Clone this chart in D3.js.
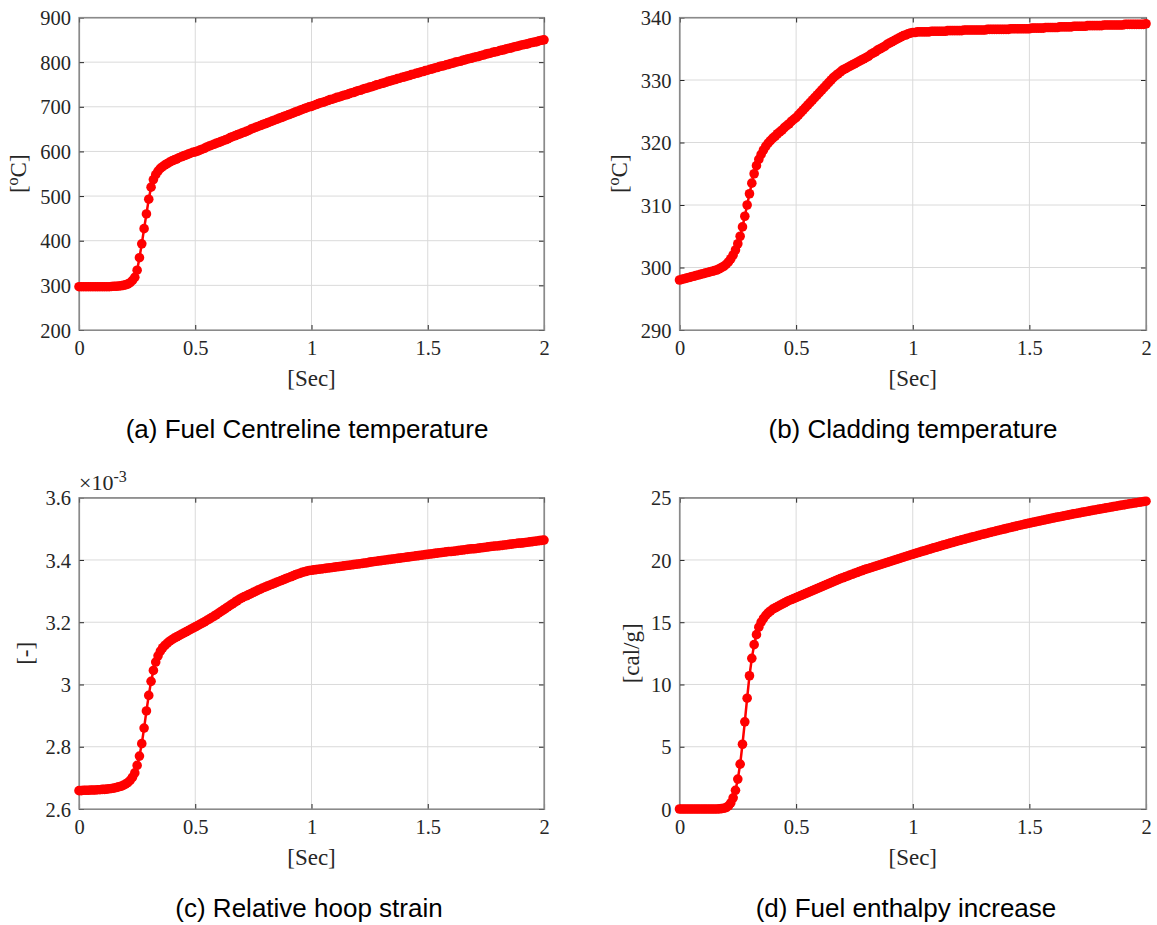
<!DOCTYPE html>
<html>
<head>
<meta charset="utf-8">
<script src="https://cdn.jsdelivr.net/npm/d3@7"></script>
<style>
  body { margin: 0; background: #fff; }
  .tick text { font-family: "Liberation Serif", "Times New Roman", serif; font-size: 20.5px; fill: #262626; }
  .lbl { font-family: "Liberation Serif", "Times New Roman", serif; font-size: 23px; fill: #262626; }
  .cap { font-family: "Liberation Sans", Arial, sans-serif; font-size: 26px; fill: #000; }
</style>
</head>
<body>
<svg id="chart" width="1157" height="925"></svg>
<script>
// sampling grid of the solver output, 0 .. 2 s every 0.01 s
var timeSec = d3.range(0, 201).map(function(i) { return i / 100; });

// (a) fuel centreline temperature [oC]
var fuelTemp = [
  297, 297, 297, 297, 297, 297, 297, 297, 297, 297,
  297, 297, 297, 297, 297.5, 298, 298, 298.5, 299, 300,
  301, 303, 306, 311, 318, 334, 362, 393, 427, 460,
  493, 520, 537, 548, 556, 562, 566, 570, 573, 576,
  579, 581, 583, 586, 588, 590, 592, 594, 596, 598,
  599, 601, 603, 605, 607, 610, 612, 614, 616, 618,
  620, 622, 624, 626, 628, 631, 633, 635, 637, 639,
  641, 643, 645, 647, 650, 652, 654, 656, 658, 660,
  662, 664, 666, 668, 670, 672, 674, 676, 678, 680,
  682, 684, 686, 688, 690, 692, 694, 696, 698, 700,
  701, 703, 705, 707, 709, 710, 712, 714, 716, 717,
  719, 721, 722, 724, 726, 727, 729, 731, 732, 734,
  736, 737, 739, 741, 742, 744, 745, 747, 749, 750,
  752, 753, 755, 757, 758, 760, 761, 763, 764, 766,
  767, 769, 770, 772, 773, 775, 776, 778, 779, 781,
  782, 784, 785, 787, 788, 790, 791, 792, 794, 795,
  797, 798, 800, 801, 802, 804, 805, 807, 808, 809,
  811, 812, 813, 815, 816, 818, 819, 820, 822, 823,
  824, 826, 827, 828, 830, 831, 832, 834, 835, 836,
  838, 839, 840, 841, 843, 844, 845, 846, 848, 849,
  850
];

// (b) cladding temperature [oC]
var cladTemp = [
  298.0, 298.1, 298.2, 298.3, 298.4, 298.5, 298.6, 298.7, 298.8, 298.9,
  299.0, 299.1, 299.2, 299.3, 299.4, 299.5, 299.6, 299.8, 300.0, 300.2,
  300.5, 300.9, 301.4, 302.0, 302.8, 303.8, 305.0, 306.5, 308.2, 310.0,
  311.8, 313.5, 315.0, 316.3, 317.3, 318.1, 318.8, 319.4, 319.9, 320.3,
  320.7, 321.0, 321.4, 321.7, 322.0, 322.4, 322.7, 323.0, 323.4, 323.7,
  324.0, 324.4, 324.8, 325.2, 325.6, 326.0, 326.4, 326.8, 327.2, 327.6,
  328.0, 328.4, 328.8, 329.2, 329.6, 330.0, 330.4, 330.7, 331.0, 331.3,
  331.6, 331.8, 332.0, 332.2, 332.4, 332.6, 332.8, 333.0, 333.2, 333.4,
  333.6, 333.8, 334.1, 334.3, 334.5, 334.8, 335.0, 335.2, 335.4, 335.7,
  335.9, 336.1, 336.3, 336.5, 336.7, 336.9, 337.1, 337.2, 337.4, 337.5,
  337.6, 337.6, 337.7, 337.7, 337.7, 337.7, 337.7, 337.7, 337.8, 337.8,
  337.8, 337.8, 337.8, 337.8, 337.8, 337.9, 337.9, 337.9, 337.9, 337.9,
  337.9, 337.9, 338.0, 338.0, 338.0, 338.0, 338.0, 338.0, 338.0, 338.0,
  338.0, 338.0, 338.1, 338.1, 338.1, 338.1, 338.1, 338.1, 338.1, 338.1,
  338.1, 338.1, 338.2, 338.2, 338.2, 338.2, 338.2, 338.2, 338.2, 338.2,
  338.2, 338.3, 338.3, 338.3, 338.3, 338.3, 338.3, 338.4, 338.4, 338.4,
  338.4, 338.4, 338.4, 338.5, 338.5, 338.5, 338.5, 338.5, 338.5, 338.6,
  338.6, 338.6, 338.6, 338.6, 338.6, 338.7, 338.7, 338.7, 338.7, 338.7,
  338.7, 338.7, 338.8, 338.8, 338.8, 338.8, 338.8, 338.8, 338.8, 338.8,
  338.8, 338.9, 338.9, 338.9, 338.9, 338.9, 338.9, 338.9, 338.9, 338.9,
  339.0
];

// (c) relative hoop strain, in units of 1e-3
var hoopStrain = [
  2.659, 2.659, 2.660, 2.660, 2.660, 2.661, 2.661, 2.661, 2.662, 2.662,
  2.663, 2.663, 2.664, 2.665, 2.666, 2.667, 2.669, 2.671, 2.673, 2.676,
  2.680, 2.685, 2.692, 2.702, 2.716, 2.740, 2.770, 2.810, 2.860, 2.915,
  2.965, 3.010, 3.045, 3.072, 3.092, 3.107, 3.118, 3.126, 3.133, 3.139,
  3.144, 3.149, 3.153, 3.157, 3.161, 3.165, 3.169, 3.173, 3.177, 3.181,
  3.185, 3.189, 3.193, 3.197, 3.201, 3.206, 3.210, 3.215, 3.219, 3.224,
  3.229, 3.234, 3.239, 3.244, 3.249, 3.254, 3.259, 3.264, 3.269, 3.274,
  3.278, 3.282, 3.285, 3.289, 3.292, 3.296, 3.299, 3.303, 3.306, 3.310,
  3.313, 3.316, 3.319, 3.322, 3.325, 3.328, 3.331, 3.334, 3.337, 3.340,
  3.343, 3.346, 3.349, 3.352, 3.355, 3.357, 3.360, 3.362, 3.364, 3.366,
  3.367, 3.368, 3.369, 3.370, 3.371, 3.372, 3.373, 3.374, 3.375, 3.376,
  3.377, 3.378, 3.379, 3.380, 3.381, 3.382, 3.383, 3.384, 3.385, 3.386,
  3.387, 3.388, 3.389, 3.390, 3.391, 3.393, 3.394, 3.395, 3.396, 3.397,
  3.398, 3.399, 3.400, 3.401, 3.402, 3.403, 3.404, 3.405, 3.406, 3.407,
  3.408, 3.409, 3.410, 3.411, 3.412, 3.413, 3.414, 3.415, 3.416, 3.417,
  3.418, 3.419, 3.420, 3.421, 3.422, 3.423, 3.424, 3.425, 3.426, 3.427,
  3.427, 3.428, 3.429, 3.430, 3.431, 3.432, 3.433, 3.434, 3.435, 3.436,
  3.436, 3.437, 3.438, 3.439, 3.440, 3.441, 3.442, 3.443, 3.444, 3.445,
  3.445, 3.446, 3.447, 3.448, 3.449, 3.450, 3.451, 3.452, 3.453, 3.454,
  3.454, 3.455, 3.456, 3.457, 3.458, 3.459, 3.460, 3.461, 3.462, 3.463,
  3.464
];

// (d) fuel enthalpy increase [cal/g]
var enthalpy = [
  0, 0, 0, 0, 0, 0, 0, 0, 0, 0,
  0, 0, 0, 0, 0, 0, 0, 0.01, 0.03, 0.06,
  0.12, 0.25, 0.5, 0.9, 1.5, 2.4, 3.6, 5.2, 7.0, 8.9,
  10.7, 12.1, 13.2, 14.0, 14.6, 15.0, 15.3, 15.55, 15.75, 15.9,
  16.05, 16.15, 16.25, 16.35, 16.45, 16.55, 16.65, 16.75, 16.82, 16.9,
  16.98, 17.06, 17.14, 17.22, 17.3, 17.38, 17.46, 17.54, 17.62, 17.7,
  17.78, 17.86, 17.94, 18.02, 18.1, 18.18, 18.26, 18.34, 18.42, 18.5,
  18.57, 18.64, 18.71, 18.78, 18.85, 18.92, 18.99, 19.06, 19.13, 19.2,
  19.26, 19.32, 19.38, 19.44, 19.5, 19.56, 19.62, 19.68, 19.74, 19.8,
  19.86, 19.92, 19.98, 20.04, 20.1, 20.16, 20.22, 20.28, 20.34, 20.4,
  20.46, 20.52, 20.58, 20.63, 20.69, 20.74, 20.8, 20.86, 20.91, 20.97,
  21.02, 21.08, 21.13, 21.19, 21.24, 21.3, 21.35, 21.4, 21.46, 21.51,
  21.56, 21.61, 21.66, 21.71, 21.76, 21.81, 21.86, 21.91, 21.96, 22.01,
  22.06, 22.1, 22.15, 22.2, 22.25, 22.29, 22.34, 22.39, 22.43, 22.48,
  22.52, 22.57, 22.61, 22.66, 22.7, 22.75, 22.79, 22.83, 22.88, 22.92,
  22.96, 23.0, 23.04, 23.08, 23.12, 23.16, 23.2, 23.24, 23.28, 23.32,
  23.36, 23.4, 23.44, 23.47, 23.51, 23.55, 23.59, 23.62, 23.66, 23.7,
  23.73, 23.77, 23.8, 23.84, 23.87, 23.91, 23.94, 23.98, 24.01, 24.05,
  24.08, 24.11, 24.15, 24.18, 24.21, 24.25, 24.28, 24.31, 24.35, 24.38,
  24.41, 24.44, 24.48, 24.51, 24.54, 24.57, 24.6, 24.63, 24.66, 24.69,
  24.72
];

var xTicks = [0, 0.5, 1, 1.5, 2];
var fuelTempTicks = [200, 300, 400, 500, 600, 700, 800, 900];
var cladTempTicks = [290, 300, 310, 320, 330, 340];
var hoopStrainTicks = [2.6, 2.8, 3, 3.2, 3.4, 3.6];
var enthalpyTicks = [0, 5, 10, 15, 20, 25];

var captions = [
  "(a) Fuel Centreline temperature",
  "(b) Cladding temperature",
  "(c) Relative hoop strain",
  "(d) Fuel enthalpy increase"
];

var svg = d3.select("#chart");

function draw_panel(p) {
    var w = p.right - p.left;
    var h = p.bottom - p.top;
    var g = svg.append("g").attr("transform", "translate(" + p.left + "," + p.top + ")");

    var x = d3.scaleLinear().domain([0, 2]).range([0, w]);
    var y = d3.scaleLinear().domain([p.ticks[0], p.ticks[p.ticks.length - 1]]).range([h, 0]);

    // grid
    g.append("g").selectAll("line").data(xTicks.slice(1, -1)).enter().append("line")
        .attr("x1", function(d) { return x(d); }).attr("x2", function(d) { return x(d); })
        .attr("y1", 0).attr("y2", h)
        .attr("stroke", "#dadada").attr("stroke-width", 1);
    g.append("g").selectAll("line").data(p.ticks.slice(1, -1)).enter().append("line")
        .attr("y1", function(d) { return y(d); }).attr("y2", function(d) { return y(d); })
        .attr("x1", 0).attr("x2", w)
        .attr("stroke", "#dadada").attr("stroke-width", 1);

    // axes, ticks pointing inside like matlab
    g.append("g").attr("transform", "translate(0," + h + ")")
        .call(d3.axisBottom(x).tickValues(xTicks).tickFormat(d3.format("")).tickSize(-5).tickPadding(10));
    var yAxis = g.append("g")
        .call(d3.axisLeft(y).tickValues(p.ticks).tickFormat(p.fmt).tickSize(-5).tickPadding(8));
    g.append("g").attr("transform", "translate(" + w + ",0)")
        .call(d3.axisRight(y).tickValues(p.ticks).tickFormat("").tickSize(-5));
    g.append("g")
        .call(d3.axisTop(x).tickValues(xTicks).tickFormat("").tickSize(-5));
    g.selectAll(".domain").attr("stroke", "#8a8a8a").attr("stroke-width", 1.2);
    g.selectAll(".tick line").attr("stroke", "#262626");
    yAxis.selectAll(".tick text").attr("dy", "0.35em");

    g.append("rect").attr("x", 0).attr("y", 0).attr("width", w).attr("height", h)
        .attr("fill", "none").attr("stroke", "#8a8a8a").attr("stroke-width", 1.2);

    // axis labels
    g.append("text").attr("class", "lbl")
        .attr("x", w / 2).attr("y", h + 56)
        .attr("text-anchor", "middle").text("[Sec]");

    var yl = g.append("text").attr("class", "lbl")
        .attr("transform", "translate(" + p.ylabX + "," + (h / 2) + ") rotate(-90)")
        .attr("text-anchor", "middle");
    if (p.degree) {
        yl.append("tspan").text("[");
        yl.append("tspan").attr("baseline-shift", "super").attr("font-size", "16px").text("o");
        yl.append("tspan").text("C]");
    } else {
        yl.text(p.ylabel);
    }

    if (p.exponent) {
        var ex = g.append("text").attr("class", "lbl").attr("x", 0).attr("y", -8).style("font-size", "22px");
        ex.append("tspan").text("\u00d710");
        ex.append("tspan").attr("baseline-shift", "super").attr("font-size", "16px").text("-3");
    }

    // data
    var pts = timeSec.map(function(t, i) { return [t, p.values[i]]; });
    g.append("path").datum(pts)
        .attr("d", d3.line().x(function(d) { return x(d[0]); }).y(function(d) { return y(d[1]); }))
        .attr("fill", "none").attr("stroke", "#ff0000").attr("stroke-width", 2.5);
    g.append("g").selectAll("circle").data(pts).enter().append("circle")
        .attr("cx", function(d) { return x(d[0]); })
        .attr("cy", function(d) { return y(d[1]); })
        .attr("r", 4.8).attr("fill", "#ff0000");

    // caption
    svg.append("text").attr("class", "cap")
        .attr("x", p.capX).attr("y", p.capY)
        .attr("text-anchor", "middle").text(p.caption);
}

draw_panel({ left: 79, right: 544, top: 17.5, bottom: 330, ticks: fuelTempTicks, values: fuelTemp,
    fmt: d3.format("d"), degree: true, ylabX: -53, caption: captions[0], capX: 307, capY: 438 });
draw_panel({ left: 679.5, right: 1146, top: 17.5, bottom: 330, ticks: cladTempTicks, values: cladTemp,
    fmt: d3.format("d"), degree: true, ylabX: -53, caption: captions[1], capX: 913, capY: 438 });
draw_panel({ left: 79, right: 544, top: 497.7, bottom: 809, ticks: hoopStrainTicks, values: hoopStrain,
    fmt: d3.format(""), ylabel: "[-]", exponent: true, ylabX: -46, caption: captions[2], capX: 309, capY: 917 });
draw_panel({ left: 679.5, right: 1146, top: 497.7, bottom: 809, ticks: enthalpyTicks, values: enthalpy,
    fmt: d3.format("d"), ylabel: "[cal/g]", ylabX: -41, caption: captions[3], capX: 906, capY: 917 });
</script>
</body>
</html>
